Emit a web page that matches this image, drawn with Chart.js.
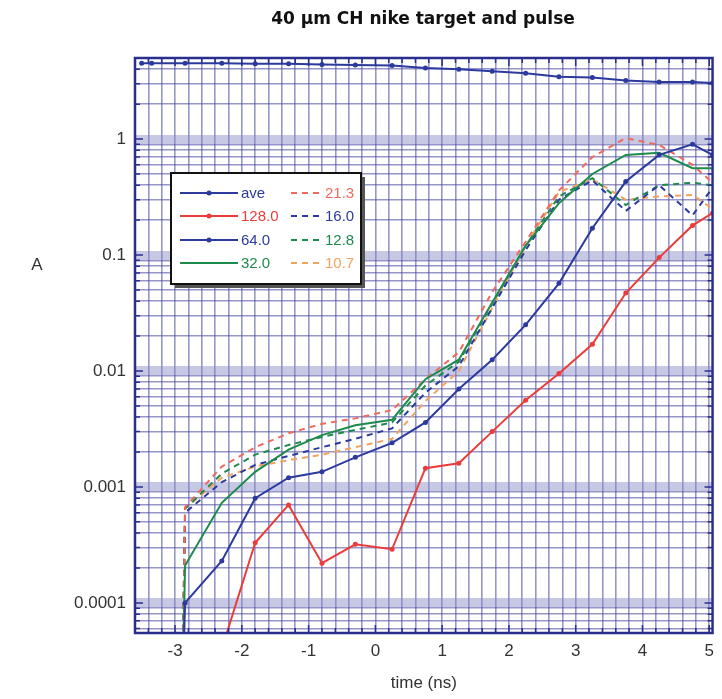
<!DOCTYPE html>
<html>
<head>
<meta charset="utf-8">
<script src="https://cdn.jsdelivr.net/npm/chart.js@4/dist/chart.umd.min.js"></script>
<style>
  html, body { margin: 0; padding: 0; background: #fff; }
  #wrap { width: 722px; height: 699px; }
</style>
</head>
<body>
<div id="wrap"><canvas id="nikeChart" width="722" height="699"></canvas></div>
<script>
// time axis (ns) shared by the mode curves
const times = [-2.9, -2.85, -2.3, -1.8, -1.3, -0.8, -0.3, 0.25, 0.75, 1.25, 1.75, 2.25, 2.75, 3.25, 3.75, 4.25, 4.75, 5.05];
const aveTimes = [-3.5, -3.35, -2.85, -2.3, -1.8, -1.3, -0.8, -0.3, 0.25, 0.75, 1.25, 1.75, 2.25, 2.75, 3.25, 3.75, 4.25, 4.75, 5.05];

const ave = [4.5, 4.5, 4.5, 4.5, 4.45, 4.45, 4.4, 4.35, 4.3, 4.1, 4.0, 3.85, 3.7, 3.45, 3.4, 3.2, 3.1, 3.1, 3.05];
const w128 = [null, null, 0.00004, 0.00033, 0.0007, 0.00022, 0.00032, 0.00029, 0.00145, 0.0016, 0.003, 0.0056, 0.0095, 0.017, 0.047, 0.095, 0.18, 0.23];
const w64 = [0.00001, 0.0001, 0.00023, 0.0008, 0.0012, 0.00135, 0.0018, 0.0024, 0.0036, 0.007, 0.0125, 0.025, 0.057, 0.17, 0.43, 0.73, 0.9, 0.73];
const w32 = [0.00001, 0.00021, 0.00073, 0.00135, 0.0021, 0.0028, 0.0034, 0.0038, 0.0085, 0.0125, 0.039, 0.12, 0.28, 0.5, 0.73, 0.76, 0.56, 0.56];
const w21 = [0.00001, 0.00067, 0.0015, 0.0022, 0.0029, 0.0035, 0.0039, 0.0046, 0.0085, 0.0145, 0.048, 0.13, 0.36, 0.7, 1.02, 0.89, 0.6, 0.42];
const w16 = [0.00001, 0.0006, 0.0011, 0.00155, 0.00185, 0.0022, 0.0026, 0.0032, 0.0065, 0.011, 0.035, 0.11, 0.3, 0.44, 0.24, 0.4, 0.22, 0.38];
const w12 = [0.00001, 0.00065, 0.0013, 0.0019, 0.0023, 0.0027, 0.0031, 0.0036, 0.0075, 0.012, 0.038, 0.12, 0.32, 0.46, 0.27, 0.4, 0.42, 0.4];
const w10 = [0.00001, 0.00065, 0.0012, 0.0015, 0.0017, 0.0019, 0.0022, 0.0026, 0.0055, 0.01, 0.035, 0.12, 0.35, 0.45, 0.3, 0.32, 0.33, 0.25];

const xTickValues = [-3, -2, -1, 0, 1, 2, 3, 4, 5];
const xTickLabels = ["-3", "-2", "-1", "0", "1", "2", "3", "4", "5"];
const yTickValues = [0.0001, 0.001, 0.01, 0.1, 1];
const yTickLabels = ["0.0001", "0.001", "0.01", "0.1", "1"];

const BLUE = "#2b3a9c";
const RED = "#ec3c3a";
const GREEN = "#1e8a4c";
const SALMON = "#ef6a5c";
const ORANGE = "#f0a35e";
const FONT = "'Liberation Sans', Arial, sans-serif";

function pts(xs, ys) {
  return xs.map((x, i) => ({ x: x, y: ys[i] }));
}

function isDecade(v) {
  const l = Math.log10(v);
  return Math.abs(l - Math.round(l)) < 1e-6;
}

// title, border, inner tick marks, horizontal "A" label and boxed two-column legend
const decorPlugin = {
  id: "decor",
  afterDatasetsDraw(chart) {
    const ctx = chart.ctx;
    const a = chart.chartArea;
    const xs = chart.scales.x;
    const ys = chart.scales.y;
    ctx.save();
    ctx.strokeStyle = "#2a2f8e";
    ctx.lineWidth = 1.5;
    ys.ticks.forEach((t) => {
      const y = ys.getPixelForValue(t.value);
      const len = isDecade(t.value) ? 8 : 5;
      ctx.beginPath();
      ctx.moveTo(a.left, y); ctx.lineTo(a.left + len, y);
      ctx.moveTo(a.right, y); ctx.lineTo(a.right - len, y);
      ctx.stroke();
    });
    xs.ticks.forEach((t) => {
      const x = xs.getPixelForValue(t.value);
      const len = Number.isInteger(Math.round(t.value * 1000) / 1000) ? 8 : 5;
      ctx.beginPath();
      ctx.moveTo(x, a.bottom); ctx.lineTo(x, a.bottom - len);
      ctx.moveTo(x, a.top); ctx.lineTo(x, a.top + len);
      ctx.stroke();
    });
    ctx.lineWidth = 2.5;
    ctx.strokeRect(a.left, a.top, a.right - a.left, a.bottom - a.top);

    // title
    ctx.fillStyle = "#111";
    ctx.font = "bold 17px 'DejaVu Sans', sans-serif";
    ctx.textAlign = "center";
    ctx.textBaseline = "middle";
    ctx.fillText("40 \u00b5m CH nike target and pulse", 423, 20);

    // y label
    ctx.fillStyle = "#333";
    ctx.font = "17px " + FONT;
    ctx.fillText("A", 37, a.top + 207);

    // legend
    const bx = 171, by = 173, bw = 190, bh = 111;
    ctx.fillStyle = "#555";
    ctx.fillRect(bx + 4, by + 4, bw, bh);
    ctx.fillStyle = "#fff";
    ctx.fillRect(bx, by, bw, bh);
    ctx.strokeStyle = "#111";
    ctx.lineWidth = 2;
    ctx.strokeRect(bx, by, bw, bh);
    const rows = [193, 216, 240, 263];
    ctx.font = "15px " + FONT;
    ctx.textAlign = "left";
    chart.data.datasets.forEach((ds, i) => {
      const col = i < 4 ? 0 : 1;
      const y = rows[i % 4];
      const x0 = col === 0 ? 180 : 291;
      const x1 = col === 0 ? 238 : 322;
      ctx.strokeStyle = ds.borderColor;
      ctx.lineWidth = 2;
      ctx.setLineDash(ds.borderDash || []);
      ctx.beginPath();
      ctx.moveTo(x0, y); ctx.lineTo(x1, y);
      ctx.stroke();
      ctx.setLineDash([]);
      if (ds.pointRadius > 0) {
        ctx.fillStyle = ds.borderColor;
        ctx.beginPath();
        ctx.arc((x0 + x1) / 2, y, 2.5, 0, Math.PI * 2);
        ctx.fill();
      }
      ctx.fillStyle = ds.borderColor;
      ctx.fillText(ds.label, x1 + 3, y + 1);
    });
    ctx.restore();
  },
};

const ctx = document.getElementById("nikeChart").getContext("2d");
const nikeChart = new Chart(ctx, {
  type: "line",
  data: {
    datasets: [
      { label: "ave", data: pts(aveTimes, ave), borderColor: BLUE, pointRadius: 2.5 },
      { label: "128.0", data: pts(times, w128), borderColor: RED, pointRadius: 2.5 },
      { label: "64.0", data: pts(times, w64), borderColor: BLUE, pointRadius: 2.5 },
      { label: "32.0", data: pts(times, w32), borderColor: GREEN, pointRadius: 0 },
      { label: "21.3", data: pts(times, w21), borderColor: SALMON, borderDash: [6, 5], pointRadius: 0 },
      { label: "16.0", data: pts(times, w16), borderColor: BLUE, borderDash: [6, 5], pointRadius: 0 },
      { label: "12.8", data: pts(times, w12), borderColor: GREEN, borderDash: [6, 5], pointRadius: 0 },
      { label: "10.7", data: pts(times, w10), borderColor: ORANGE, borderDash: [6, 5], pointRadius: 0 },
    ].map((d) => Object.assign({ borderWidth: 2, tension: 0, spanGaps: false, pointBackgroundColor: d.borderColor, pointBorderWidth: 0 }, d)),
  },
  options: {
    responsive: false,
    animation: false,
    layout: { padding: { top: 58, right: 9, bottom: 0, left: 0 } },
    plugins: {
      legend: { display: false },
      tooltip: { enabled: false },
      title: { display: false },
    },
    scales: {
      x: {
        type: "linear",
        min: -3.6,
        max: 5.05,
        afterBuildTicks: (scale) => {
          const out = [];
          for (let k = -18; k <= 25; k++) out.push({ value: k / 5 });
          scale.ticks = out;
        },
        afterFit: (scale) => { scale.height = 66; },
        ticks: {
          autoSkip: false,
          maxRotation: 0,
          padding: 8,
          color: "#333",
          font: { family: FONT, size: 17 },
          callback: (v) => {
            const i = xTickValues.findIndex((t) => Math.abs(t - v) < 1e-6);
            return i >= 0 ? xTickLabels[i] : "";
          },
        },
        grid: { drawTicks: false, color: "rgba(80,80,165,0.6)", lineWidth: 1.6 },
        border: { display: false },
        title: {
          display: true,
          text: "time (ns)",
          color: "#333",
          font: { family: FONT, size: 17 },
          padding: { top: 0, bottom: 5 },
        },
      },
      y: {
        type: "logarithmic",
        min: 0.000055,
        max: 5,
        afterBuildTicks: (scale) => {
          const out = [];
          for (let e = -5; e <= 0; e++) {
            for (let m = 1; m <= 9; m++) {
              const v = m * Math.pow(10, e);
              if (v >= scale.min && v <= scale.max) out.push({ value: v });
            }
          }
          scale.ticks = out;
        },
        afterFit: (scale) => { scale.width = 135; },
        ticks: {
          autoSkip: false,
          padding: 9,
          color: "#333",
          font: { family: FONT, size: 17 },
          callback: (v) => {
            const i = yTickValues.findIndex((t) => Math.abs(t - v) / t < 1e-6);
            return i >= 0 ? yTickLabels[i] : "";
          },
        },
        grid: {
          drawTicks: false,
          color: (c) => (c.tick && isDecade(c.tick.value) ? "rgba(130,135,195,0.45)" : "rgba(80,80,165,0.6)"),
          lineWidth: (c) => (c.tick && isDecade(c.tick.value) ? 9 : 1.6),
        },
        border: { display: false },
      },
    },
  },
  plugins: [decorPlugin],
});
</script>
</body>
</html>
